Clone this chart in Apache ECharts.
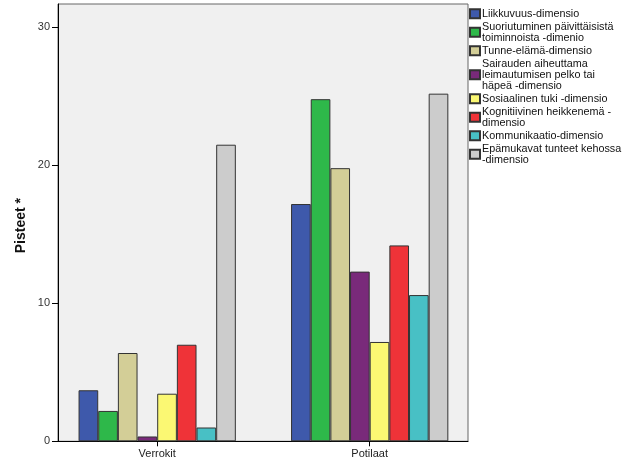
<!DOCTYPE html>
<html>
<head>
<meta charset="utf-8">
<script src="https://cdn.jsdelivr.net/npm/echarts@6/dist/echarts.min.js"></script>
<style>html,body{margin:0;padding:0;background:#fff}#c{width:626px;height:460px}</style>
</head>
<body>
<div id="c"></div>
<script>
const categories = ['Verrokit', 'Potilaat'];
const seriesNames = [
  'Liikkuvuus-dimensio',
  'Suoriutuminen päivittäisistä\ntoiminnoista -dimenio',
  'Tunne-elämä-dimensio',
  'Sairauden aiheuttama\nleimautumisen pelko tai\nhäpeä -dimensio',
  'Sosiaalinen tuki -dimensio',
  'Kognitiivinen heikkenemä -\ndimensio',
  'Kommunikaatio-dimensio',
  'Epämukavat tunteet kehossa\n-dimensio'
];
const liikkuvuus = [3.7, 17.2];
const suoriutuminen = [2.2, 24.8];
const tunne = [6.4, 19.8];
const sairauden = [0.35, 12.3];
const sosiaalinen = [3.45, 7.2];
const kognitiivinen = [7.0, 14.2];
const kommunikaatio = [1.0, 10.6];
const epamukavat = [21.5, 25.2];
const yTicks = [0, 10, 20, 30];
const colors = ['#3e59ab', '#2eb84a', '#d3ce97', '#792a7a', '#fbf873', '#ef3338', '#48c0c5', '#cccccc'];

const values = [liikkuvuus, suoriutuminen, tunne, sairauden, sosiaalinen, kognitiivinen, kommunikaatio, epamukavat];
const yMax = 31.7;
const font = 'Liberation Sans, Arial, sans-serif';

const chart = echarts.init(document.getElementById('c'), null, {renderer: 'canvas'});
chart.setOption({
  animation: false,
  color: colors,
  grid: [
    {left: 58, top: 4, width: 410, height: 437.3, show: true, backgroundColor: '#f0f0f0', borderColor: '#666', borderWidth: 1},
    {left: 50.95, top: 4, width: 425, height: 437.3}
  ],
  xAxis: [
    {type: 'category', gridIndex: 0, data: categories, axisLine: {show: true, lineStyle: {color: '#000', width: 1}},
     axisTick: {show: false}, axisLabel: {show: false}, splitLine: {show: false}},
    {type: 'category', gridIndex: 1, data: categories, axisLine: {show: false},
     axisTick: {show: true, alignWithLabel: true, length: 5, lineStyle: {color: '#000'}},
     axisLabel: {margin: 7, color: '#222', fontFamily: font, fontSize: 11}, splitLine: {show: false}}
  ],
  yAxis: [
    {type: 'value', gridIndex: 0, min: yTicks[0], max: yMax, interval: yTicks[1] - yTicks[0],
     name: 'Pisteet *', nameLocation: 'middle', nameRotate: 90, nameGap: 30, nameMoveOverlap: false,
     nameTextStyle: {fontFamily: font, fontSize: 14, fontWeight: 'bold', color: '#111', padding: [0, 6, 0, 0]},
     axisLine: {show: true, lineStyle: {color: '#000'}},
     axisTick: {show: true, length: 6, customValues: yTicks, lineStyle: {color: '#000'}},
     axisLabel: {margin: 8, color: '#333', fontFamily: font, fontSize: 11, customValues: yTicks},
     splitLine: {show: false}},
    {type: 'value', gridIndex: 1, min: yTicks[0], max: yMax, show: false, splitLine: {show: false}}
  ],
  legend: {
    orient: 'vertical', left: 469, top: 8.3, padding: 0, itemGap: 2,
    itemWidth: 10, itemHeight: 9, icon: 'rect', selectedMode: false,
    textStyle: {fontFamily: font, fontSize: 10.8, lineHeight: 11, color: '#111', padding: [0, 0, 0, -3]},
    data: seriesNames
  },
  series: seriesNames.map((name, i) => ({
    name: name,
    type: 'bar',
    xAxisIndex: 1,
    yAxisIndex: 1,
    barWidth: 19.66,
    barGap: '0%',
    data: values[i],
    itemStyle: {color: colors[i], borderColor: '#333', borderWidth: 1}
  }))
});
</script>
</body>
</html>
